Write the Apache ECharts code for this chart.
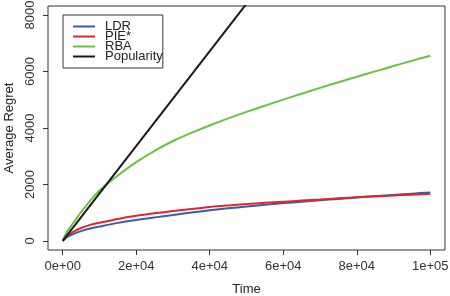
<!DOCTYPE html>
<html>
<head>
<meta charset="utf-8">
<script src="https://cdn.jsdelivr.net/npm/echarts@6/dist/echarts.min.js"></script>
<style>html,body{margin:0;padding:0;background:#fff}#c{width:450px;height:296px}</style>
</head>
<body>
<div id="c"></div>
<script>
var times = [0, 1000, 2500, 5000, 7500, 10000, 15000, 20000, 25000, 30000, 35000, 40000, 45000, 50000, 55000, 60000, 65000, 70000, 75000, 80000, 85000, 90000, 95000, 100000];
var ldr = [0, 125, 230, 350, 440, 510, 640, 745, 835, 920, 1005, 1085, 1155, 1220, 1280, 1340, 1390, 1440, 1490, 1540, 1585, 1630, 1675, 1720];
var pie = [0, 150, 300, 460, 570, 645, 780, 890, 980, 1060, 1135, 1205, 1260, 1310, 1350, 1390, 1430, 1470, 1510, 1545, 1580, 1610, 1640, 1670];
var rba = [0, 290, 570, 1020, 1430, 1790, 2320, 2790, 3190, 3540, 3830, 4090, 4340, 4570, 4790, 5005, 5215, 5420, 5620, 5815, 6005, 6195, 6380, 6560];
var popTimes = [0, 100000];
var popularity = [0, 16800];
var xTicks = [0, 20000, 40000, 60000, 80000, 100000];
var xTickLabels = ['0e+00', '2e+04', '4e+04', '6e+04', '8e+04', '1e+05'];
var yTicks = [0, 2000, 4000, 6000, 8000];
var yTickLabels = ['0', '2000', '4000', '6000', '8000'];
var seriesNames = ['LDR', 'PIE*', 'RBA', 'Popularity'];
var colors = ['#3C5CAA', '#E3252B', '#6CC044', '#1A1A1A'];

function zip(xs, ys) { return xs.map(function (x, i) { return [x, ys[i]]; }); }

var chart = echarts.init(document.getElementById('c'), null, {renderer: 'canvas'});
var font = 'Liberation Sans, Arial, Helvetica, sans-serif';
var axisColor = '#333';
chart.setOption({
  animation: false,
  textStyle: {fontFamily: font},
  grid: {left: 48, right: 5, top: 6, bottom: 46, containLabel: false, outerBoundsMode: 'none',
    show: true, borderColor: axisColor, borderWidth: 1, backgroundColor: 'transparent'},
  legend: {
    orient: 'vertical', left: 63, top: 15,
    padding: [5, 0, 5, 10],
    borderColor: axisColor, borderWidth: 1,
    itemGap: -3, itemWidth: 22, itemHeight: 2, icon: 'rect',
    textStyle: {fontSize: 13, color: '#222', fontFamily: font, padding: [0, 0, 0, 5]},
    data: seriesNames
  },
  xAxis: {
    type: 'value', min: -4000, max: 104000,
    name: 'Time', nameLocation: 'middle', nameGap: 33,
    nameTextStyle: {fontSize: 13, color: '#222', fontFamily: font},
    axisLine: {show: false, onZero: false},
    axisTick: {show: true, customValues: xTicks, length: 5, lineStyle: {color: axisColor}},
    axisLabel: {customValues: xTicks, margin: 10, fontSize: 13, color: '#333', fontFamily: font,
      formatter: function (v) { var i = xTicks.indexOf(v); return i >= 0 ? xTickLabels[i] : ''; }},
    splitLine: {show: false}
  },
  yAxis: {
    type: 'value', min: -320, max: 8320,
    name: 'Average Regret', nameLocation: 'middle', nameGap: 32,
    nameTextStyle: {fontSize: 13, color: '#222', fontFamily: font},
    axisLine: {show: false, onZero: false},
    axisTick: {show: true, customValues: yTicks, length: 5, lineStyle: {color: axisColor}},
    axisLabel: {customValues: yTicks, rotate: 90, margin: 11, fontSize: 13, color: '#333', fontFamily: font,
      formatter: function (v) { var i = yTicks.indexOf(v); return i >= 0 ? yTickLabels[i] : ''; }},
    splitLine: {show: false}
  },
  series: [
    {name: seriesNames[0], type: 'line', data: zip(times, ldr), smooth: 0.3, showSymbol: false, clip: true, lineStyle: {width: 2, color: colors[0]}, itemStyle: {color: colors[0]}},
    {name: seriesNames[1], type: 'line', data: zip(times, pie), smooth: 0.3, showSymbol: false, clip: true, lineStyle: {width: 2, color: colors[1]}, itemStyle: {color: colors[1]}},
    {name: seriesNames[2], type: 'line', data: zip(times, rba), smooth: 0.3, showSymbol: false, clip: true, lineStyle: {width: 2, color: colors[2]}, itemStyle: {color: colors[2]}},
    {name: seriesNames[3], type: 'line', data: zip(popTimes, popularity), showSymbol: false, clip: true, lineStyle: {width: 2, color: colors[3]}, itemStyle: {color: colors[3]}}
  ]
});
</script>
</body>
</html>
